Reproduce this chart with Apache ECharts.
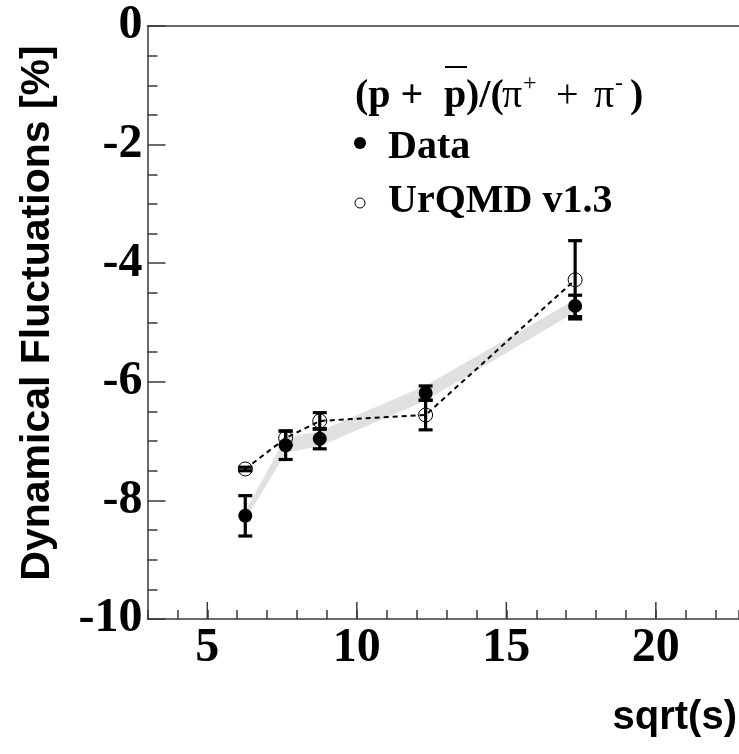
<!DOCTYPE html>
<html><head><meta charset="utf-8">
<script src="https://cdn.jsdelivr.net/npm/echarts@6/dist/echarts.min.js"></script>
<style>html,body{margin:0;padding:0;background:#fff}#c{width:739px;height:754px}</style>
</head><body><div id="c"></div>
<script>
// ---- data ----
const sqrtS = [6.27, 7.62, 8.76, 12.3, 17.3];
const dataVals = [-8.26, -7.07, -6.96, -6.19, -4.72];
const dataErr = [0.34, 0.24, 0.17, 0.12, 0.18];
const dataSys = [0.06, 0.12, 0.12, 0.12, 0.1];
const urqmdVals = [-7.47, -6.95, -6.66, -6.56, -4.28];
const urqmdErr = [0.03, 0.12, 0.14, 0.25, 0.66];
const xTickLabels = [5, 10, 15, 20];
const yTickLabels = [0, -2, -4, -6, -8, -10];

const AXC = '#3a3a3a';
const serif = '"Liberation Serif", "Times New Roman", serif';
const sans = '"Liberation Sans", Arial, sans-serif';
const xMin = 3, xMax = 22.78, yMin = -10, yMax = 0;

function errRender(params, api) {
  const x = api.value(0), y = api.value(1), e = api.value(2);
  const top = api.coord([x, y + e]), bot = api.coord([x, y - e]);
  const hw = 7, st = {stroke: '#000', lineWidth: 3.2};
  return {type: 'group', children: [
    {type: 'line', shape: {x1: top[0], y1: top[1], x2: bot[0], y2: bot[1]}, style: st},
    {type: 'line', shape: {x1: top[0] - hw, y1: top[1], x2: top[0] + hw, y2: top[1]}, style: st},
    {type: 'line', shape: {x1: bot[0] - hw, y1: bot[1], x2: bot[0] + hw, y2: bot[1]}, style: st}
  ]};
}
function bandRender(params, api) {
  const p0h = api.coord([api.value(0), api.value(2)]);
  const p1h = api.coord([api.value(3), api.value(5)]);
  const p1l = api.coord([api.value(3), api.value(4)]);
  const p0l = api.coord([api.value(0), api.value(1)]);
  return {type: 'polygon', shape: {points: [p0h, p1h, p1l, p0l]},
    style: {fill: '#e0e0e0', stroke: '#e0e0e0', lineWidth: 0.8}};
}
function majorTickRender(params, api) {
  const p = api.coord([api.value(0), yMin]);
  return {type: 'line', shape: {x1: p[0], y1: p[1], x2: p[0], y2: p[1] - 17},
    style: {stroke: AXC, lineWidth: 1.5}};
}
const bandSegs = sqrtS.slice(0, -1).map((x, i) => [
  x, dataVals[i] - dataSys[i], dataVals[i] + dataSys[i],
  sqrtS[i + 1], dataVals[i + 1] - dataSys[i + 1], dataVals[i + 1] + dataSys[i + 1]]);

const chart = echarts.init(document.getElementById('c'), null, {renderer: 'canvas'});
chart.setOption({
  animation: false,
  backgroundColor: '#fff',
  grid: {left: 147.5, top: 26, right: 0, bottom: 135, containLabel: false},
  xAxis: [
    {type: 'value', min: xMin, max: xMax, interval: 1, position: 'bottom',
      axisLine: {show: true, onZero: false, lineStyle: {color: AXC, width: 1.5}},
      axisTick: {show: true, inside: true, length: 9, lineStyle: {color: AXC, width: 1.5}},
      axisLabel: {show: true, customValues: xTickLabels, margin: 6, fontSize: 48, fontWeight: 'bold', fontFamily: serif, color: '#000'},
      splitLine: {show: false}},
    {type: 'value', min: xMin, max: xMax, position: 'top',
      axisLine: {show: true, onZero: false, lineStyle: {color: AXC, width: 1.5}},
      axisTick: {show: false}, axisLabel: {show: false}, splitLine: {show: false}}
  ],
  yAxis: [
    {type: 'value', min: yMin, max: yMax, interval: 2, position: 'left',
      axisLine: {show: true, onZero: false, lineStyle: {color: AXC, width: 1.5}},
      axisTick: {show: true, inside: true, length: 18, lineStyle: {color: AXC, width: 1.5}},
      axisLabel: {show: true, margin: 5, padding: [10, 0, 0, 0], fontSize: 48, fontWeight: 'bold', fontFamily: serif, color: '#000',
        formatter: v => yTickLabels.includes(v) ? String(v) : ''},
      splitLine: {show: false}},
    {type: 'value', min: yMin, max: yMax, interval: 0.5, position: 'left',
      axisLine: {show: false}, axisLabel: {show: false}, splitLine: {show: false},
      axisTick: {show: true, inside: true, length: 10, lineStyle: {color: AXC, width: 1.5}}}
  ],
  series: [
    {type: 'custom', name: 'xMajorTicks', z: 2, silent: true, renderItem: majorTickRender, clip: false,
      data: xTickLabels.map(v => [v])},
    {type: 'custom', name: 'sysBand', z: 1, silent: true, renderItem: bandRender, data: bandSegs},
    {type: 'line', name: 'UrQMD v1.3', z: 3, symbol: 'circle', symbolSize: 14,
      lineStyle: {color: '#000', width: 2, type: [5, 4]},
      itemStyle: {color: 'rgba(0,0,0,0)', borderColor: '#000', borderWidth: 1, opacity: 1},
      data: sqrtS.map((x, i) => [x, urqmdVals[i]])},
    {type: 'custom', name: 'urqmdErr', z: 4, renderItem: errRender,
      data: sqrtS.map((x, i) => [x, urqmdVals[i], urqmdErr[i]])},
    {type: 'custom', name: 'dataErr', z: 4, renderItem: errRender,
      data: sqrtS.map((x, i) => [x, dataVals[i], dataErr[i]])},
    {type: 'scatter', name: 'Data', z: 5, symbol: 'circle', symbolSize: 14,
      itemStyle: {color: '#000', opacity: 1}, data: sqrtS.map((x, i) => [x, dataVals[i]])}
  ],
  graphic: [
    {type: 'text', x: 38, y: 313, rotation: Math.PI / 2,
      style: {text: 'Dynamical Fluctuations [%]', font: 'bold 41px ' + sans, fill: '#000', align: 'center', verticalAlign: 'middle'}},
    {type: 'text', x: 737, y: 718,
      style: {text: 'sqrt(s)', font: 'bold 40px ' + sans, fill: '#000', align: 'right', verticalAlign: 'middle'}},
    // legend header
    {type: 'text', x: 355, y: 96.5, style: {text: '(p +', font: 'bold 40px ' + serif, fill: '#000', align: 'left', verticalAlign: 'middle'}},
    {type: 'text', x: 444, y: 96.5, style: {text: 'p', font: 'bold 40px ' + serif, fill: '#000', align: 'left', verticalAlign: 'middle'}},
    {type: 'line', shape: {x1: 445, y1: 67, x2: 467, y2: 67}, style: {stroke: '#000', lineWidth: 2}},
    {type: 'text', x: 466, y: 96.5, style: {text: ')/(', font: 'bold 40px ' + serif, fill: '#000', align: 'left', verticalAlign: 'middle'}},
    {type: 'text', x: 502, y: 96.5, style: {text: 'π', font: '40px ' + serif, fill: '#000', align: 'left', verticalAlign: 'middle'}},
    {type: 'text', x: 523, y: 84, style: {text: '+', font: '24px ' + serif, fill: '#000', align: 'left', verticalAlign: 'middle'}},
    {type: 'text', x: 556, y: 96.5, style: {text: '+', font: '40px ' + serif, fill: '#000', align: 'left', verticalAlign: 'middle'}},
    {type: 'text', x: 594, y: 96.5, style: {text: 'π', font: '40px ' + serif, fill: '#000', align: 'left', verticalAlign: 'middle'}},
    {type: 'text', x: 615, y: 84, style: {text: '-', font: '24px ' + serif, fill: '#000', align: 'left', verticalAlign: 'middle'}},
    {type: 'text', x: 630, y: 96.5, style: {text: ')', font: 'bold 40px ' + serif, fill: '#000', align: 'left', verticalAlign: 'middle'}},
    // legend entries
    {type: 'circle', shape: {cx: 360, cy: 143, r: 6}, style: {fill: '#000'}},
    {type: 'text', x: 388, y: 147.5, style: {text: 'Data', font: 'bold 40px ' + serif, fill: '#000', align: 'left', verticalAlign: 'middle'}},
    {type: 'circle', shape: {cx: 360, cy: 203, r: 5}, style: {fill: 'none', stroke: '#000', lineWidth: 1}},
    {type: 'text', x: 388, y: 201.5, style: {text: 'UrQMD v1.3', font: 'bold 40px ' + serif, fill: '#000', align: 'left', verticalAlign: 'middle'}}
  ]
});
</script></body></html>
